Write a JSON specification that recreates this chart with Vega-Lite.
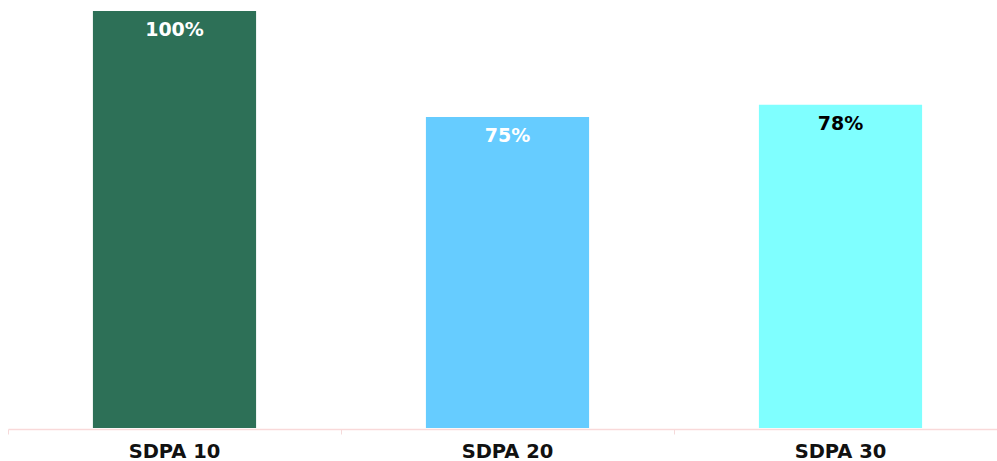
{
  "$schema": "https://vega.github.io/schema/vega-lite/v6.json",
  "width": 989,
  "height": 417,
  "padding": {"left": 8, "top": 11, "right": 0, "bottom": 33},
  "autosize": {"type": "none"},
  "background": "white",
  "config": {"view": {"stroke": null}},
  "data": {"values": [
    {"group": "SDPA 10", "value": 1.00, "label": "100%", "color": "#2d7057", "textColor": "white"},
    {"group": "SDPA 20", "value": 0.746, "label": "75%", "color": "#66ccff", "textColor": "white"},
    {"group": "SDPA 30", "value": 0.775, "label": "78%", "color": "#7fffff", "textColor": "black"}
  ]},
  "encoding": {
    "x": {"field": "group", "type": "nominal", "sort": null,
      "scale": {"range": [0, 999], "paddingInner": 0, "paddingOuter": 0},
      "axis": {"title": null, "labelAngle": 0, "domainColor": "#f9d9d9", "domainWidth": 1.5, "tickColor": "#f5dada", "tickSize": 5, "bandPosition": 0, "offset": 1,
        "labelFont": "DejaVu Sans", "labelFontWeight": "bold", "labelFontSize": 19.5, "labelColor": "#111111", "labelPadding": 8, "labelBaseline": "top"}},
    "y": {"field": "value", "type": "quantitative", "scale": {"domain": [0, 1]}, "axis": null}
  },
  "layer": [
    {"mark": {"type": "bar", "width": {"band": 0.49}},
      "encoding": {"color": {"field": "color", "type": "nominal", "scale": null}}},
    {"mark": {"type": "text", "baseline": "alphabetic", "dy": 25, "font": "DejaVu Sans", "fontWeight": "bold", "fontSize": 19},
      "encoding": {"text": {"field": "label"}, "color": {"field": "textColor", "type": "nominal", "scale": null}}}
  ]
}
